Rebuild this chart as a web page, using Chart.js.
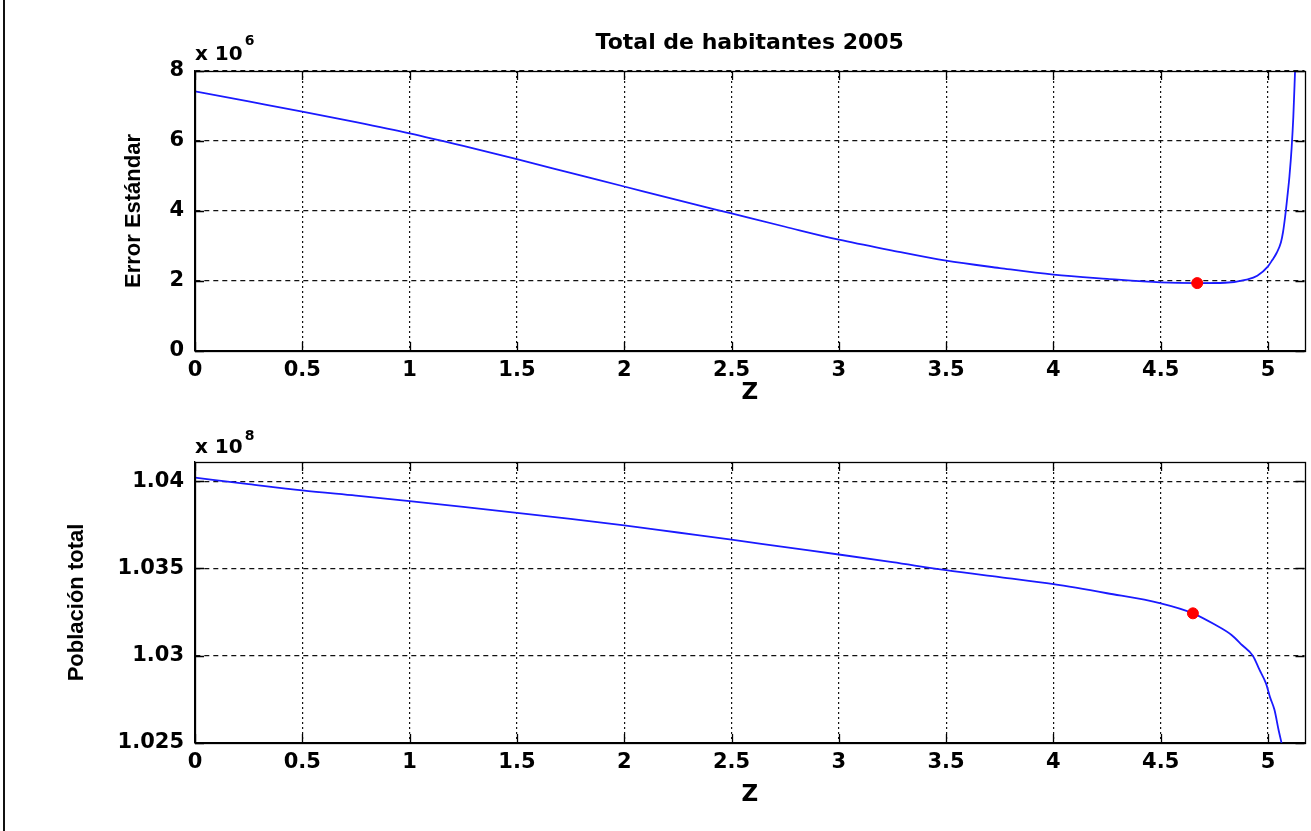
<!DOCTYPE html>
<html><head><meta charset="utf-8">
<script src="https://cdn.jsdelivr.net/npm/chart.js@4"></script>
<style>
html,body{margin:0;padding:0;background:#fff;}
#wrap{position:relative;width:1311px;height:831px;background:#fff;overflow:hidden;}
#edge{position:absolute;left:3px;top:0;width:0;height:831px;border-left:2px solid #111;}
.box{position:absolute;left:0;width:1311px;}
</style></head><body>
<div id="wrap">
<div class="box" style="top:0;height:415px"><canvas id="c1"></canvas></div>
<div class="box" style="top:415px;height:416px"><canvas id="c2"></canvas></div>
<div id="edge"></div>
</div>
<script>
// ---- data ----
const chartTitle = 'Total de habitantes 2005';
const zTicks = [0, 0.5, 1, 1.5, 2, 2.5, 3, 3.5, 4, 4.5, 5];
const errTicks = [0, 2, 4, 6, 8];
const pobTicks = [1.025, 1.03, 1.035, 1.04];

// Top panel: Error Estándar (x 10^6) vs Z
const zTop   = [0, 0.25, 0.5, 0.75, 1, 1.25, 1.5, 1.75, 2, 2.25, 2.5, 2.75, 3, 3.25, 3.5, 3.75, 4, 4.25, 4.5, 4.67, 4.8, 4.9, 4.95, 5.0, 5.02, 5.04, 5.06, 5.07, 5.08, 5.09, 5.1, 5.11, 5.118, 5.126, 5.135];
const errTop = [7.42, 7.13, 6.84, 6.54, 6.22, 5.86, 5.48, 5.09, 4.70, 4.31, 3.93, 3.55, 3.18, 2.87, 2.58, 2.37, 2.18, 2.06, 1.96, 1.94, 1.95, 2.04, 2.15, 2.42, 2.6, 2.8, 3.1, 3.4, 3.85, 4.4, 5.0, 5.8, 6.7, 8.0, 9.5];
const optTopZ = [4.67];
const optTopErr = [1.94];

// Bottom panel: Población total (x 10^8) vs Z
const zBot   = [0, 0.25, 0.5, 0.75, 1, 1.25, 1.5, 1.75, 2, 2.25, 2.5, 2.75, 3, 3.25, 3.5, 3.75, 4, 4.25, 4.5, 4.65, 4.75, 4.83, 4.88, 4.93, 4.96, 4.99, 5.01, 5.03, 5.05, 5.065, 5.08];
const pobBot = [1.0402, 1.03983, 1.03947, 1.03917, 1.03886, 1.03853, 1.03819, 1.03784, 1.03747, 1.03706, 1.03665, 1.03622, 1.0358, 1.03536, 1.0349, 1.0345, 1.0341, 1.03358, 1.0330, 1.03243, 1.0318, 1.03119, 1.0306, 1.02999, 1.0292, 1.02843, 1.0276, 1.0269, 1.0257, 1.0249, 1.0241];
const optBotZ = [4.65];
const optBotPob = [1.03243];

// ---- helpers ----
const toXY = (xs, ys) => xs.map((x, i) => ({x: x, y: ys[i]}));
const tickFont = {family: 'DejaVu Sans', size: 21, weight: 'bold'};

const framePlugin = {
  id: 'frame',
  afterDraw(chart, args, opts) {
    const {ctx, chartArea: a, scales} = chart;
    ctx.save();
    ctx.setLineDash([]);
    ctx.strokeStyle = '#000';
    ctx.lineWidth = 1.3;
    ctx.strokeRect(Math.round(a.left) + 0.5, Math.round(a.top) + 0.5, Math.round(a.right - a.left), Math.round(a.bottom - a.top));
    const tl = 9;
    ctx.beginPath();
    scales.x.ticks.forEach(t => {
      const px = Math.round(scales.x.getPixelForValue(t.value)) + 0.5;
      ctx.moveTo(px, a.bottom); ctx.lineTo(px, a.bottom - tl);
      ctx.moveTo(px, a.top); ctx.lineTo(px, a.top + tl);
    });
    scales.y.ticks.forEach(t => {
      const py = Math.round(scales.y.getPixelForValue(t.value)) + 0.5;
      ctx.moveTo(a.left, py); ctx.lineTo(a.left + tl, py);
      ctx.moveTo(a.right, py); ctx.lineTo(a.right - tl, py);
    });
    ctx.stroke();
    // exponent label
    ctx.fillStyle = '#000';
    ctx.textAlign = 'left';
    ctx.textBaseline = 'alphabetic';
    ctx.font = 'bold 20px "DejaVu Sans"';
    ctx.fillText('x 10', a.left, a.top - opts.base);
    const w = ctx.measureText('x 10').width;
    ctx.font = 'bold 14px "DejaVu Sans"';
    ctx.fillText(opts.exp, a.left + w + 2, a.top - opts.supBase);
    ctx.restore();
  }
};

function makeChart(id, cfg) {
  return new Chart(document.getElementById(id), {
    type: 'scatter',
    data: {
      datasets: [
        {data: toXY(cfg.optX, cfg.optY), showLine: false, pointRadius: 5.5, pointHoverRadius: 5.5,
         pointBackgroundColor: '#ff0000', pointBorderColor: '#ff0000', pointBorderWidth: 1},
        {data: toXY(cfg.xs, cfg.ys), showLine: true, borderColor: '#1a1aff', borderWidth: 1.8,
         pointRadius: 0, cubicInterpolationMode: 'monotone', fill: false}
      ]
    },
    options: {
      responsive: true,
      maintainAspectRatio: false,
      animation: false,
      events: [],
      layout: {padding: {left: 0, right: 6, top: cfg.padTop, bottom: 0}},
      plugins: {
        legend: {display: false},
        tooltip: {enabled: false},
        title: cfg.title ? {display: true, fullSize: false, text: cfg.title, color: '#000',
          font: {family: 'DejaVu Sans', size: 22, weight: 'bold'}, padding: {top: 30, bottom: 14.6}} : {display: false},
        frame: {exp: cfg.exp, base: cfg.expBase, supBase: cfg.expSup}
      },
      scales: {
        x: {
          type: 'linear', min: 0, max: 5.17,
          afterBuildTicks: s => { s.ticks = zTicks.map(v => ({value: v})); },
          afterFit: s => { s.height = cfg.xAxisH; },
          ticks: {color: '#000', font: tickFont, padding: 7, maxRotation: 0, autoSkip: false,
                  callback: v => String(v)},
          grid: {color: '#111', lineWidth: 1.2, drawTicks: false},
          border: {display: true, color: '#000', width: 1.3, dash: [2, 3]},
          title: {display: true, text: 'Z', color: '#000',
                  font: {family: 'DejaVu Sans', size: 23, weight: 'bold'}, padding: {top: 0, bottom: cfg.zPad}}
        },
        y: {
          type: 'linear', min: cfg.yMin, max: cfg.yMax,
          afterBuildTicks: s => { s.ticks = cfg.yTicks.map(v => ({value: v})); },
          afterFit: s => { s.width = 195; },
          ticks: {color: '#000', font: tickFont, padding: 11, autoSkip: false,
                  callback: v => String(Number(Number(v).toFixed(3)))},
          grid: {color: '#111', lineWidth: 1.2, drawTicks: false},
          border: {display: true, color: '#000', width: 1.3, dash: [5, 4]},
          title: {display: true, text: cfg.yTitle, color: '#000',
                  font: {family: 'Liberation Sans', size: 22, weight: 'bold'}, padding: {top: cfg.yTitlePad, bottom: 0}}
        }
      }
    },
    plugins: [framePlugin]
  });
}

makeChart('c1', {
  title: chartTitle, padTop: 0, xs: zTop, ys: errTop, optX: optTopZ, optY: optTopErr,
  yMin: 0, yMax: 8, yTicks: errTicks, yTitle: 'Error Estándar', yTitlePad: 121,
  xAxisH: 64, zPad: 8, exp: '6', expBase: 11, expSup: 26
});
makeChart('c2', {
  title: null, padTop: 47, xs: zBot, ys: pobBot, optX: optBotZ, optY: optBotPob,
  yMin: 1.025, yMax: 1.0411, yTicks: pobTicks, yTitle: 'Población total', yTitlePad: 64,
  xAxisH: 88, zPad: 22, exp: '8', expBase: 9, expSup: 22
});
</script>
</body></html>
